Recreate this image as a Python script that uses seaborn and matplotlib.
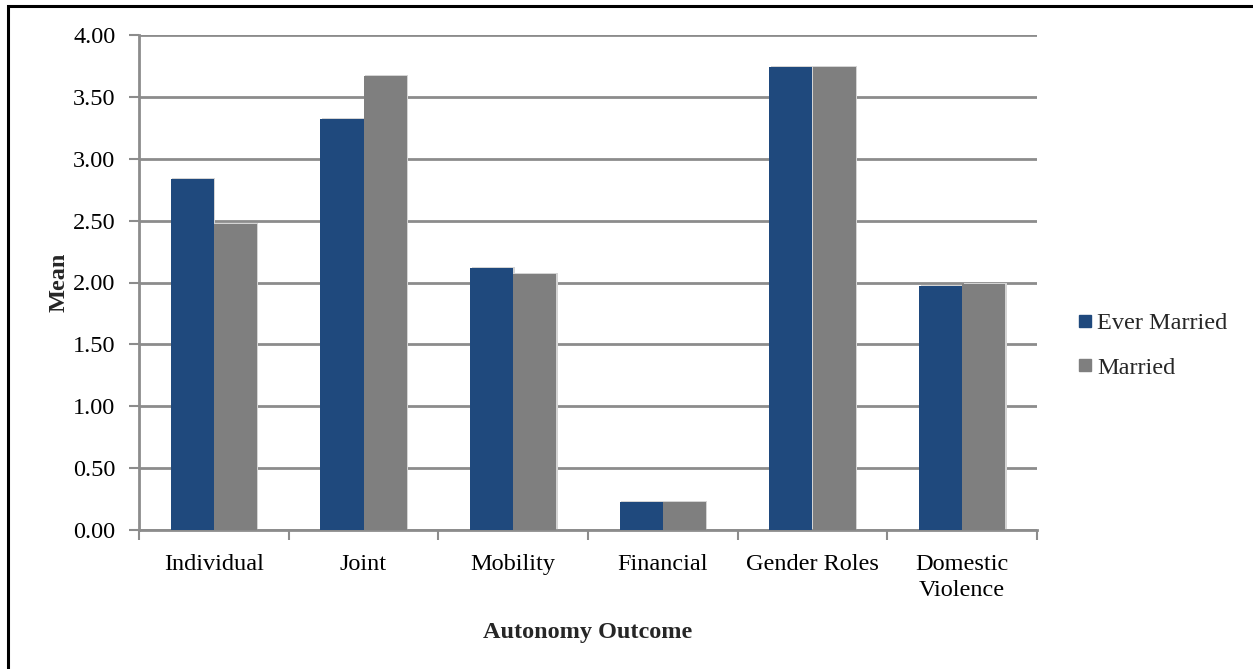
import matplotlib
matplotlib.use("Agg")
import matplotlib.pyplot as plt
from matplotlib.patches import Rectangle
from matplotlib.lines import Line2D
import seaborn as sns
import pandas as pd
import numpy as np

categories = ["Individual", "Joint", "Mobility", "Financial", "Gender Roles", "Domestic\nViolence"]
ever_married = [2.84, 3.32, 2.12, 0.23, 3.74, 1.97]
married = [2.47, 3.67, 2.07, 0.23, 3.74, 1.99]
series_names = ["Ever Married", "Married"]
y_ticks = [0.0, 0.5, 1.0, 1.5, 2.0, 2.5, 3.0, 3.5, 4.0]

df = pd.DataFrame({
    "Outcome": categories * 2,
    "Mean": ever_married + married,
    "Group": [series_names[0]] * len(categories) + [series_names[1]] * len(categories),
})

sns.set_theme(style="white")
plt.rcParams["font.family"] = "Liberation Serif"
SERIF = "Liberation Serif"

FS = 17.5
W, H = 1253, 669
fig = plt.figure(figsize=(W / 100, H / 100), dpi=100)
ax = fig.add_axes([139 / W, 1 - 530 / H, (1037 - 139) / W, (530 - 35) / H])

palette = {"Ever Married": "#1f497d", "Married": "#7f7f7f"}
sns.barplot(data=df, x="Outcome", y="Mean", hue="Group", order=categories,
            hue_order=series_names, palette=palette, width=0.575, gap=0,
            saturation=1, ax=ax, legend=False, zorder=3, linewidth=0)

# soft shadow behind bars
for p in list(ax.patches):
    x, y = p.get_x(), p.get_y()
    w, h = p.get_width(), p.get_height()
    ax.add_patch(Rectangle((x + 0.01, y), w, h + 0.008, facecolor="#d4d4d4",
                           edgecolor="none", zorder=2))

ax.set_ylim(0, 4.0)
ax.set_xlim(-0.5, len(categories) - 0.5)
ax.set_yticks(y_ticks)
ax.set_yticklabels([f"{v:.2f}" for v in y_ticks], family=SERIF)
ax.yaxis.grid(True, color="#8c8c8c", linewidth=2, zorder=1)
ax.set_axisbelow(True)

for s in ["top", "right"]:
    ax.spines[s].set_visible(False)
for s in ["left", "bottom"]:
    ax.spines[s].set_color("#8c8c8c")
    ax.spines[s].set_linewidth(2)

ax.tick_params(axis="y", which="major", left=True, length=7, width=1.5,
               color="#8c8c8c", labelsize=FS, labelcolor="black", pad=10)
ax.set_xticks(np.arange(len(categories)))
ax.set_xticklabels(categories, family=SERIF)
ax.tick_params(axis="x", which="major", bottom=False, labelsize=FS,
               labelcolor="black", pad=11)
ax.set_xticks(np.arange(-0.5, len(categories)), minor=True)
ax.tick_params(axis="x", which="minor", bottom=True, length=7, width=1.5,
               color="#8c8c8c")
for lbl in ax.get_xticklabels():
    lbl.set_linespacing(1.35)

ax.set_xlabel("Autonomy Outcome", fontsize=FS, fontweight="bold",
              family=SERIF, labelpad=15)
ax.set_ylabel("Mean", fontsize=FS, fontweight="bold", family=SERIF,
              labelpad=2)

handles = [Line2D([0], [0], marker="s", linestyle="none", markersize=8.7,
                  markerfacecolor=palette[n], markeredgecolor=palette[n])
           for n in series_names]
fig.legend(handles, series_names, loc="upper left",
           bbox_to_anchor=(1061 / W, 1 - 300 / H), frameon=False,
           prop={"family": SERIF, "size": FS}, handletextpad=0.0,
           labelspacing=0.92, borderpad=0, handlelength=1.0)

# page frame around the figure
fig.add_artist(Rectangle((8 / W, -0.1), 2.0, (1 - 6 / H) + 0.1,
                         transform=fig.transFigure, fill=False,
                         edgecolor="black", linewidth=2.2))

fig.savefig("out.png", dpi=100, facecolor="white")
